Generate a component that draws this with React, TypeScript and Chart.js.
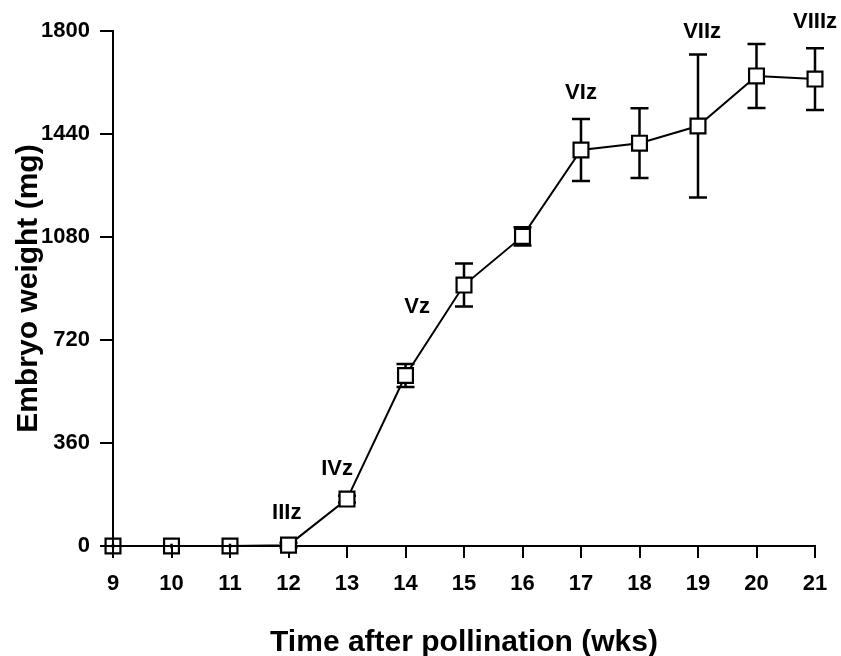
import { useEffect, useRef } from 'react';
import { Chart, registerables } from 'chart.js';

Chart.register(...registerables);

const weeks = [9, 10, 11, 12, 13, 14, 15, 16, 17, 18, 19, 20, 21];
const weights = [0, 0, 0, 3, 164, 596, 912, 1082, 1384, 1408, 1468, 1643, 1632];
const errors = [8, 8, 8, 8, 12, 40, 75, 32, 108, 122, 250, 112, 108];
const yTicks = [0, 360, 720, 1080, 1440, 1800];
const stageLabels = ['IIIz', 'IVz', 'Vz', 'VIz', 'VIIz', 'VIIIz'];
const stageWeeks = [11.97, 12.83, 14.2, 17.0, 19.07, 21.0];
const stageWeights = [115, 269, 835, 1583, 1796, 1831];

const FONT = '"Liberation Sans", Arial, Helvetica, sans-serif';

const errorBarPlugin = {
  id: 'errorBars',
  beforeDatasetsDraw(chart: any) {
    const { ctx, scales } = chart;
    const xs = scales.x;
    const ys = scales.y;
    ctx.save();
    ctx.strokeStyle = '#000';
    ctx.lineWidth = 2.5;
    weeks.forEach((w, i) => {
      const x = xs.getPixelForValue(w);
      const yTop = ys.getPixelForValue(weights[i] + errors[i]);
      const yBot = ys.getPixelForValue(weights[i] - errors[i]);
      ctx.beginPath();
      ctx.moveTo(x, yTop);
      ctx.lineTo(x, yBot);
      if (weights[i] > 0) {
        ctx.moveTo(x - 9, yTop);
        ctx.lineTo(x + 9, yTop);
        ctx.moveTo(x - 9, yBot);
        ctx.lineTo(x + 9, yBot);
      }
      ctx.stroke();
    });
    ctx.restore();
  },
};

const stagePlugin = {
  id: 'stageLabels',
  afterDatasetsDraw(chart: any) {
    const { ctx, scales } = chart;
    ctx.save();
    ctx.fillStyle = '#000';
    ctx.font = `bold 22px ${FONT}`;
    ctx.textAlign = 'center';
    ctx.textBaseline = 'middle';
    stageLabels.forEach((t, i) => {
      ctx.fillText(t, scales.x.getPixelForValue(stageWeeks[i]), scales.y.getPixelForValue(stageWeights[i]));
    });
    ctx.restore();
  },
};

export default function App() {
  const ref = useRef<HTMLCanvasElement | null>(null);
  useEffect(() => {
    if (!ref.current) return;
    const chart = new Chart(ref.current, {
      type: 'line',
      data: {
        datasets: [
          {
            data: weeks.map((w, i) => ({ x: w, y: weights[i] })),
            borderColor: '#000',
            borderWidth: 2,
            pointStyle: 'rect',
            pointRadius: 10.5,
            pointBorderWidth: 2.2,
            pointBorderColor: '#000',
            pointBackgroundColor: weights.map((v) => (v > 0 ? '#fff' : 'rgba(0,0,0,0)')),
            clip: false as any,
            tension: 0,
          },
        ],
      },
      options: {
        animation: false,
        responsive: false,
        maintainAspectRatio: false,
        layout: { padding: { left: 0, right: 26, top: 31, bottom: 0 } },
        plugins: { legend: { display: false }, tooltip: { enabled: false } },
        scales: {
          x: {
            type: 'linear',
            min: 9,
            max: 21,
            afterFit(scale: any) {
              scale.height = 110;
            },
            afterBuildTicks(scale: any) {
              scale.ticks = weeks.map((w) => ({ value: w }));
            },
            grid: { drawOnChartArea: false, drawTicks: true, tickLength: 12, color: '#000', lineWidth: 2 },
            border: { display: true, color: '#000', width: 2 },
            ticks: {
              color: '#000',
              padding: 13,
              font: { family: FONT, size: 22, weight: 'bold' },
              maxRotation: 0,
              autoSkip: false,
              callback: (v: any) => String(v),
            },
            title: {
              display: true,
              text: 'Time after pollination (wks)',
              color: '#000',
              font: { family: FONT, size: 30, weight: 'bold', lineHeight: 0.9 },
              padding: { top: 0, bottom: 0 },
            },
          },
          y: {
            type: 'linear',
            min: 0,
            max: 1800,
            afterFit(scale: any) {
              scale.width = 113;
            },
            afterBuildTicks(scale: any) {
              scale.ticks = yTicks.map((v) => ({ value: v }));
            },
            grid: { drawOnChartArea: false, drawTicks: true, tickLength: 13, color: '#000', lineWidth: 2 },
            border: { display: true, color: '#000', width: 2 },
            ticks: {
              color: '#000',
              padding: 10,
              font: { family: FONT, size: 22, weight: 'bold' },
              autoSkip: false,
              callback: (v: any) => String(v),
            },
            title: {
              display: true,
              text: 'Embryo weight (mg)',
              color: '#000',
              font: { family: FONT, size: 30, weight: 'bold' },
              padding: { top: 11, bottom: 0 },
            },
          },
        },
      },
      plugins: [errorBarPlugin, stagePlugin],
    });
    return () => chart.destroy();
  }, []);
  return (
    <div style={{ position: 'absolute', left: 0, top: 0, width: 841, height: 656, background: '#fff' }}>
      <canvas ref={ref} width={841} height={656} />
    </div>
  );
}
